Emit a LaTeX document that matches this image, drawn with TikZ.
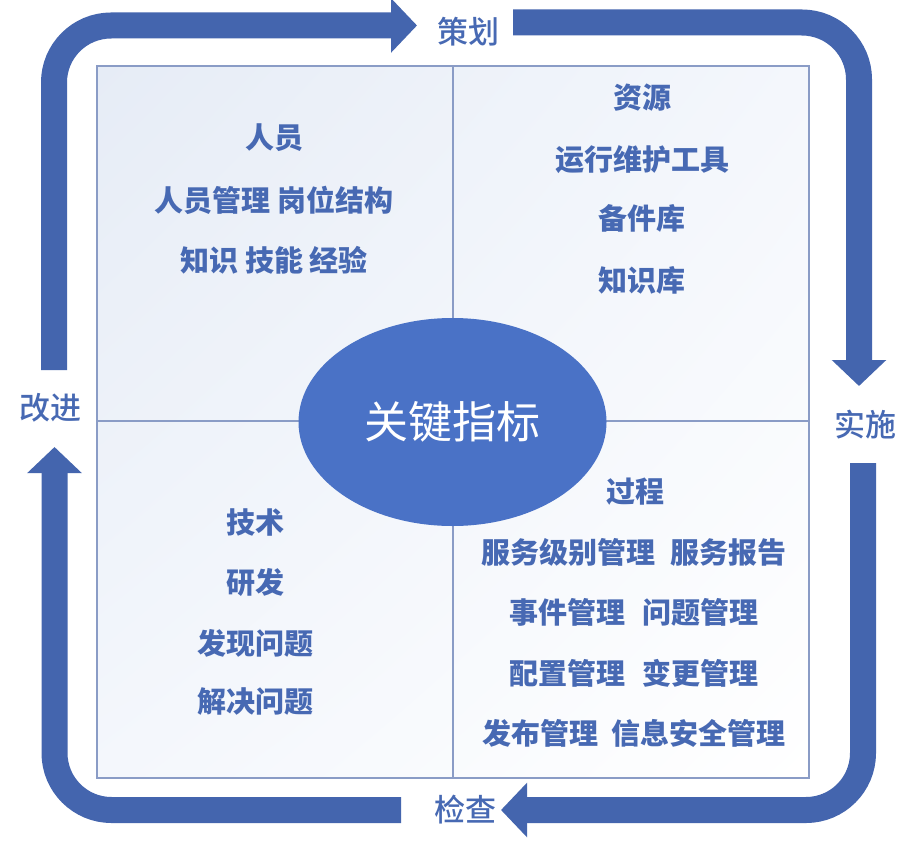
\documentclass[tikz,border=0pt]{standalone}
\usepackage{fontspec}
\setmainfont{Noto Sans CJK SC}
\newfontfamily\medfont{Noto Sans CJK SC Medium}
\usetikzlibrary{arrows.meta,shapes.geometric,shadings}
\definecolor{bandc}{HTML}{4465AE}
\definecolor{ellc}{HTML}{4A72C6}
\definecolor{txtc}{HTML}{4769B3}
\definecolor{boxc}{HTML}{8A9CC6}
\definecolor{bgA}{HTML}{E6ECF6}
\definecolor{bgB}{HTML}{F4F7FC}
\tikzset{
  band/.style={draw=bandc, line width=26pt, rounded corners=57pt,
    -{Triangle[width=53pt,length=26pt]}},
  boxtxt/.style={text=txtc, font=\fontsize{29}{31}\selectfont\bfseries, inner sep=0pt},
  cyclbl/.style={text=txtc, font=\fontsize{31}{33}\selectfont\medfont, inner sep=0pt},
  divider/.style={draw=boxc, line width=1.6pt},
}
\begin{document}
\begin{tikzpicture}[x=1pt,y=-1pt]
\useasboundingbox (0,0) rectangle (912,843);
\fill[white] (0,0) rectangle (912,843);
% box
\shade[upper left=bgA, upper right=bgB, lower left=bgB, lower right=white] (97,66) rectangle (809,778);
\draw[divider] (97,66) rectangle (809,778);
\draw[divider] (453,66) -- (453,778);
\draw[divider] (97,421) -- (809,421);
% centre ellipse
\node[ellipse, fill=ellc, minimum width=308pt, minimum height=208pt, inner sep=0pt,
  text=white, font=\fontsize{44}{46}\selectfont] (kpi) at (452.5,422) {关键指标};
% cycle labels
\node[cyclbl] (plan) at (468,32) {策划};
\node[cyclbl] (do) at (865,425) {实施};
\node[cyclbl] (check) at (465,810) {检查};
\node[cyclbl] (act) at (50,408) {改进};
% band coordinates
\coordinate (a1s) at (54,370);
\coordinate (a1e) at (417,25.5);
\coordinate (a2s) at (513,22.5);
\coordinate (a2e) at (859,386);
\coordinate (a3s) at (863,463);
\coordinate (a3e) at (501,810);
\coordinate (a4s) at (401,810);
\coordinate (a4e) at (54.5,447);
\draw[band] (a1s) |- (a1e);
\draw[band] (a2s) -| (a2e);
\draw[band] (a3s) |- (a3e);
\draw[band] (a4s) -| (a4e);
% top-left quadrant
\node[boxtxt] (p1) at (274,138) {人员};
\node[boxtxt] (p2) at (274,200) {人员管理 岗位结构};
\node[boxtxt] (p3) at (274,260) {知识 技能 经验};
% top-right quadrant
\node[boxtxt] (r1) at (642,98) {资源};
\node[boxtxt] (r2) at (642,160) {运行维护工具};
\node[boxtxt] (r3) at (642,218) {备件库};
\node[boxtxt] (r4) at (642,280) {知识库};
% bottom-left quadrant
\node[boxtxt] (t1) at (255,522) {技术};
\node[boxtxt] (t2) at (255,582) {研发};
\node[boxtxt] (t3) at (255,643) {发现问题};
\node[boxtxt] (t4) at (255,702) {解决问题};
% bottom-right quadrant
\node[boxtxt] (q1) at (635,492) {过程};
\node[boxtxt] (q2) at (634,552) {服务级别管理\hspace{16pt}服务报告};
\node[boxtxt] (q3) at (634,612) {事件管理\hspace{18pt}问题管理};
\node[boxtxt] (q4) at (634,673) {配置管理\hspace{18pt}变更管理};
\node[boxtxt] (q5) at (634,733) {发布管理\hspace{14pt}信息安全管理};
\end{tikzpicture}
\end{document}
